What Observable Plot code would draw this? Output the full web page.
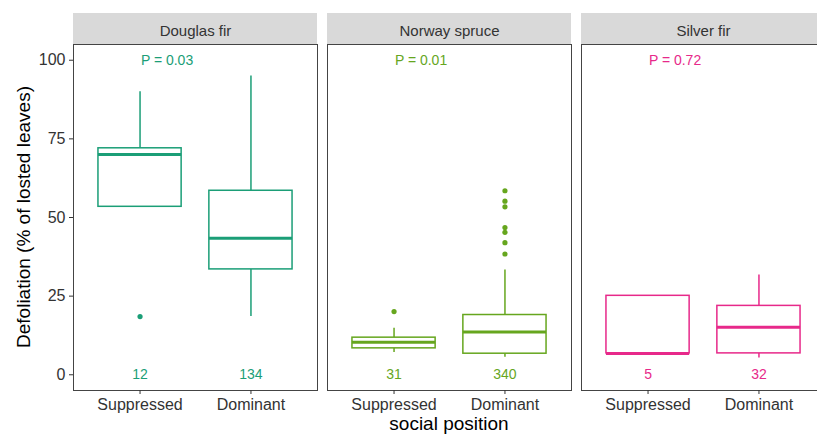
<!DOCTYPE html>
<html><head><meta charset="utf-8">
<script src="https://cdn.jsdelivr.net/npm/d3@7"></script>
<script src="https://cdn.jsdelivr.net/npm/@observablehq/plot@0.6"></script>
<style>
html,body{margin:0;padding:0;background:#fff;overflow:hidden;}
#chart svg{display:block;}
</style></head><body><div id="chart"></div>
<script>
const species = ["Douglas fir", "Norway spruce", "Silver fir"];
const speciesColors = ["#1B9E77", "#66A61E", "#E7298A"];
const positions = ["Suppressed", "Dominant"];

const groupSpecies  = ["Douglas fir", "Douglas fir", "Norway spruce", "Norway spruce", "Silver fir", "Silver fir"];
const groupPosition = ["Suppressed", "Dominant", "Suppressed", "Dominant", "Suppressed", "Dominant"];
const whiskerLow  = [53.4, 18.5,  7.1,  5.6,  6.8,  5.3];
const quartile1   = [53.4, 33.5,  8.4,  6.7,  6.8,  6.8];
const medianValue = [70.0, 43.4, 10.3, 13.6,  6.8, 15.1];
const quartile3   = [72.0, 58.5, 11.8, 19.0, 25.1, 21.9];
const whiskerHigh = [90.0, 95.0, 14.8, 33.3, 25.1, 31.7];
const sampleSize  = [12, 134, 31, 340, 5, 32];

const pLabels = ["P = 0.03", "P = 0.01", "P = 0.72"];

const outlierSpecies  = ["Douglas fir", "Norway spruce", "Norway spruce", "Norway spruce", "Norway spruce", "Norway spruce", "Norway spruce", "Norway spruce", "Norway spruce"];
const outlierPosition = ["Suppressed", "Suppressed", "Dominant", "Dominant", "Dominant", "Dominant", "Dominant", "Dominant", "Dominant"];
const outlierValue    = [18.5, 20.1, 58.5, 55.2, 53.4, 46.8, 45.3, 42.0, 38.4];

const yTicks = [0, 25, 50, 75, 100];
const yTitle = "Defoliation (% of losted leaves)";
const xTitle = "social position";

const groups = groupSpecies.map((s, i) => ({
  species: s, position: groupPosition[i],
  lo: whiskerLow[i], q1: quartile1[i], med: medianValue[i], q3: quartile3[i], hi: whiskerHigh[i],
  n: String(sampleSize[i])
}));
const outliers = outlierValue.map((v, i) => ({species: outlierSpecies[i], position: outlierPosition[i], value: v}));
const pData = species.map((s, i) => ({species: s, position: positions[0], label: pLabels[i]}));

const W = 817, H = 435, ML = 73, MR = -8, MT = 44, MB = 45;

const plot = Plot.plot({
  width: W, height: H,
  marginLeft: ML, marginRight: MR, marginTop: MT, marginBottom: MB,
  style: {fontFamily: "'Liberation Sans', Arial, sans-serif", fontSize: "16px", color: "#333", background: "#fff", overflow: "visible"},
  fx: {domain: species, paddingInner: 10 / 254, paddingOuter: 0, round: false},
  x: {domain: positions, paddingInner: 0.25, paddingOuter: 0.225, align: 0.5, round: false},
  y: {domain: [-5, 105]},
  color: {domain: species, range: speciesColors},
  marks: [
    Plot.ruleX(groups, {fx: "species", x: "position", y1: "lo", y2: "q1", stroke: "species", strokeWidth: 1.5}),
    Plot.ruleX(groups, {fx: "species", x: "position", y1: "q3", y2: "hi", stroke: "species", strokeWidth: 1.5}),
    Plot.barY(groups, {fx: "species", x: "position", y1: "q1", y2: "q3", fill: "white", stroke: "species", strokeWidth: 1.5, inset: 0}),
    Plot.tickY(groups, {fx: "species", x: "position", y: "med", stroke: "species", strokeWidth: 3}),
    Plot.dot(outliers, {fx: "species", x: "position", y: "value", fill: "species", r: 2.6}),
    Plot.text(pData, {fx: "species", x: "position", y: () => 100, text: "label", fill: "species", dx: 27, fontSize: 14}),
    Plot.text(groups, {fx: "species", x: "position", y: () => 0, text: "n", fill: "species", fontSize: 14}),
    Plot.frame({stroke: "#444", strokeWidth: 1}),
    Plot.axisY({ticks: yTicks, tickSize: 4, tickPadding: 4, fontSize: 16, label: null}),
    Plot.axisX({tickSize: 4, tickPadding: 4, fontSize: 16, label: null}),
    Plot.axisFx({anchor: "top", tickSize: 0, tickPadding: 9, fontSize: 15, label: null})
  ]
});

// strip backgrounds and axis titles
const svg = d3.select(plot);
const fxs = plot.scale("fx");
const band = d3.scaleBand().domain(fxs.domain).range(fxs.range)
  .paddingInner(fxs.paddingInner).paddingOuter(fxs.paddingOuter).align(fxs.align ?? 0.5);
const strips = svg.insert("g", ":first-child");
species.forEach(s => {
  strips.append("rect").attr("x", band(s)).attr("y", 13).attr("width", band.bandwidth()).attr("height", MT - 13).attr("fill", "#d9d9d9");
});
svg.insert("rect", ":first-child").attr("width", W).attr("height", H).attr("fill", "#fff");
const [r0, r1] = fxs.range;
svg.append("text").text(yTitle)
  .attr("transform", `translate(23,${(MT + H - MB) / 2}) rotate(-90)`)
  .attr("text-anchor", "middle").attr("dominant-baseline", "central")
  .attr("font-size", 19).attr("fill", "#000");
svg.append("text").text(xTitle)
  .attr("x", (r0 + r1) / 2).attr("y", H - 5)
  .attr("text-anchor", "middle").attr("font-size", 19).attr("fill", "#000");

document.getElementById("chart").appendChild(plot);
</script></body></html>
